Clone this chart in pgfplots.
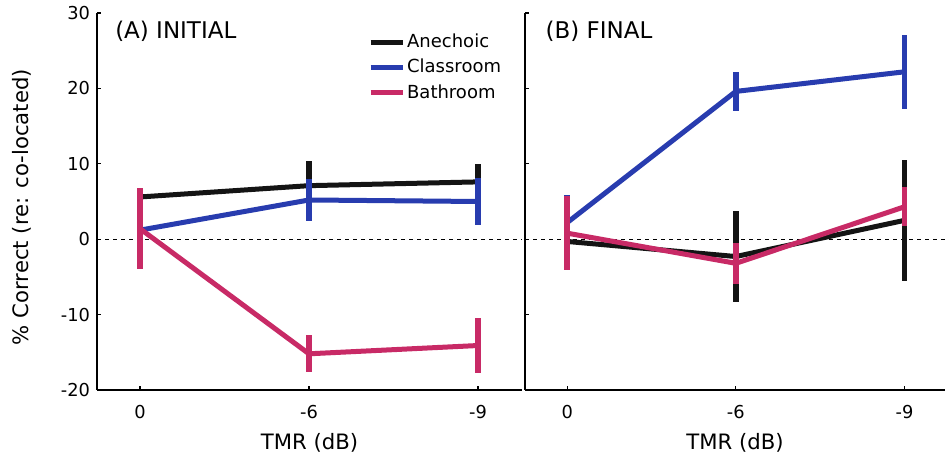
\documentclass[border=0pt]{standalone}
\usepackage{fontspec}
\setmainfont{DejaVu Sans}
\usepackage{pgfplots}
\pgfplotsset{compat=1.18}
\definecolor{cblue}{RGB}{40,60,175}
\definecolor{cpink}{RGB}{200,42,102}
\definecolor{cblack}{RGB}{20,20,20}
\pgfplotsset{
  panel/.style={
    scale only axis, anchor=south west,
    height=188.5pt, ymin=-20, ymax=30,
    axis x line=bottom, axis y line=left,
    axis line style={-, line width=0.8pt},
    tick align=inside, major tick length=2pt,
    tick style={line width=0.6pt, black},
    xtick={0,1,2}, xticklabels={0,-6,-9},
    ytick={-20,-10,0,10,20,30},
    /pgf/number format/assume math mode=true,
    tick label style={font=\fontsize{8.9}{10}\selectfont},
    xticklabel style={yshift=-4pt},
    label style={font=\fontsize{10.6}{12}\selectfont},
    xlabel={TMR (dB)},
    xlabel style={at={(axis description cs:0.5,-0.14)}, anchor=center},
    clip=false,
    legend image code/.code={\draw[#1, line width=2.5pt] (0pt,0pt) -- (16pt,0pt);},
  },
  ser/.style={line width=2.5pt, color=#1,
    error bars/.cd, y dir=both, y explicit, error mark=none,
    error bar style={line width=2.8pt, color=#1}},
}
\begin{document}
\begin{tikzpicture}
\useasboundingbox (0,0) rectangle (472.5pt,229pt);
\begin{axis}[panel, at={(48.5pt,34pt)}, width=212.5pt,
  xmin=-0.254, xmax=2.26,
  yticklabels={-20,-10,0,10,20,30},
  ylabel={\% Correct (re: co-located)},
  ylabel style={at={(axis description cs:-0.176,0.485)}, anchor=center},
  legend style={at={(rel axis cs:0.637,0.95)}, anchor=north west, draw=none, fill=none,
    font=\fontsize{9}{10}\selectfont, row sep=2.2pt, inner sep=0pt,
    nodes={inner sep=1pt}, legend cell align=left},
]
\addplot[forget plot, line width=0.6pt, dash pattern=on 2pt off 2pt] coordinates {(-0.254,0) (2.26,0)};
\addplot[ser=cblack] coordinates {(0,5.6) +- (0,1.0) (1,7.1) +- (0,3.3) (2,7.6) +- (0,2.4)};
\addplot[ser=cblue] coordinates {(0,1.2) +- (0,3.5) (1,5.2) +- (0,2.8) (2,5.0) +- (0,3.1)};
\addplot[ser=cpink] coordinates {(0,1.4) +- (0,5.4) (1,-15.2) +- (0,2.45) (2,-14.1) +- (0,3.7)};
\legend{Anechoic,Classroom,Bathroom}
\node[anchor=west, font=\fontsize{11.5}{13}\selectfont, inner sep=0pt] at (rel axis cs:0.042,0.952) {(A) INITIAL};
\end{axis}
\begin{axis}[panel, at={(262.5pt,34pt)}, width=210pt,
  xmin=-0.25, xmax=2.24,
  yticklabels={},
]
\addplot[forget plot, line width=0.6pt, dash pattern=on 2pt off 2pt] coordinates {(-0.25,0) (2.24,0)};
\addplot[ser=cblack] coordinates {(0,-0.3) +- (0,3.0) (1,-2.3) +- (0,6.0) (2,2.5) +- (0,8.0)};
\addplot[ser=cblue] coordinates {(0,2.2) +- (0,3.6) (1,19.6) +- (0,2.6) (2,22.2) +- (0,4.9)};
\addplot[ser=cpink] coordinates {(0,0.8) +- (0,4.9) (1,-3.2) +- (0,2.7) (2,4.3) +- (0,2.6)};
\node[anchor=west, font=\fontsize{11.5}{13}\selectfont, inner sep=0pt] at (rel axis cs:0.048,0.952) {(B) FINAL};
\end{axis}
\end{tikzpicture}
\end{document}
